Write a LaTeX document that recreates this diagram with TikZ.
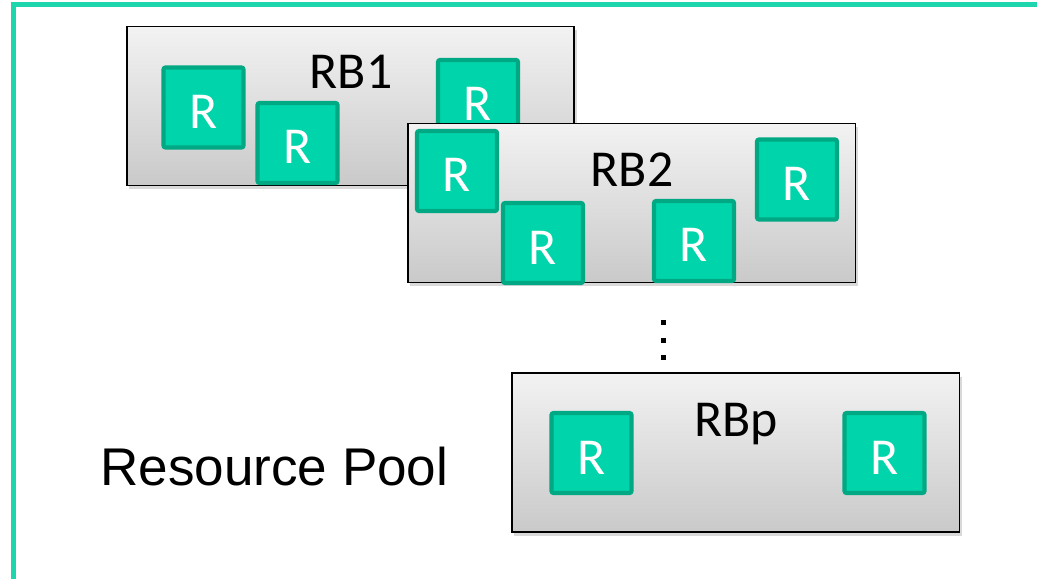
\documentclass[tikz,border=0pt]{standalone}
\usepackage{fontspec}
\setmainfont{Carlito}
\newfontfamily\arialf{Liberation Sans}
\usetikzlibrary{shadows}
\definecolor{rfill}{HTML}{00D4AA}
\definecolor{rborder}{HTML}{00A883}
\definecolor{framecol}{HTML}{1DD6AE}
\newcommand\rsquare[2]{\node[rsq] (#1) at (#2) {};
  \node[rlab] (#1-t) at ([yshift=-0.42cm]#1.center) {R};}
\begin{document}
\begin{tikzpicture}[x=0.02cm,y=-0.02cm,
  rb/.style={draw=black, line width=1.1pt, top color=black!5, bottom color=black!21,
    minimum width=8.96cm, minimum height=3.18cm, inner sep=0pt,
    drop shadow={shadow xshift=1.5pt, shadow yshift=-2pt, opacity=0.3}},
  rsq/.style={draw=rborder, fill=rfill, line width=2.4pt, rounded corners=1.2pt,
    minimum size=1.6cm, inner sep=0pt},
  rlab/.style={text=white, font=\fontsize{29.5}{34}\selectfont, anchor=base, inner sep=0pt},
  rbname/.style={text=black, font=\fontsize{29.5}{34}\selectfont, anchor=base, inner sep=0pt},
  dot/.style={fill=black, minimum size=0.1cm, inner sep=0pt}]
\useasboundingbox (0,0) rectangle (1037,578);
\begin{scope}
\clip (0,0) rectangle (1037,578);
\draw[framecol, line width=2.85pt] (1100,4.5) -- (13.5,4.5) -- (13.5,650);
\end{scope}
% RB1
\node[rb] (rb1) at (350.5,106) {};
\node[rbname] (rb1-t) at (351,88) {RB1};
\rsquare{r1a}{203.5,107.5}
\rsquare{r1b}{297.5,143}
\rsquare{r1c}{478,100}
% RB2
\node[rb] (rb2) at (631.5,203) {};
\node[rbname] (rb2-t) at (632,186) {RB2};
\rsquare{r2a}{457,171}
\rsquare{r2b}{543,243}
\rsquare{r2c}{694,241}
\rsquare{r2d}{797,179.5}
% dots
\node[dot] (d1) at (663,322) {};
\node[dot] (d2) at (663,340) {};
\node[dot] (d3) at (663,357) {};
% RBp
\node[rb] (rbp) at (735.5,452.5) {};
\node[rbname] (rbp-t) at (736,436) {RBp};
\rsquare{rpa}{591.5,453}
\rsquare{rpb}{884.5,453}
% label
\node[anchor=base west, inner sep=0pt, font=\arialf\fontsize{30.2}{36}\selectfont] (pool) at (100,485) {Resource Pool};
\end{tikzpicture}
\end{document}
